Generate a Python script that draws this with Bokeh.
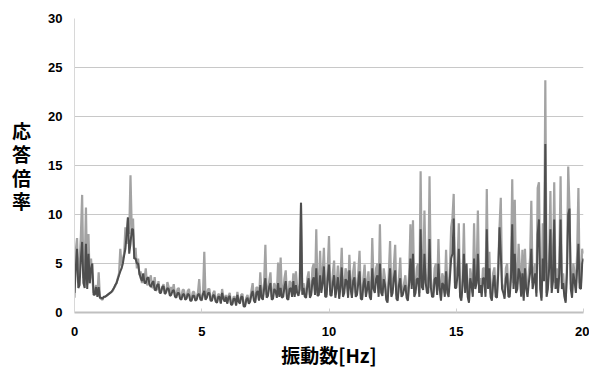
from bokeh.plotting import figure
from bokeh.models import Range1d, FixedTicker
from bokeh.embed import file_html
from bokeh.resources import INLINE

# Frequency axis: 0.00 .. 20.00 Hz in 0.05 Hz steps
freq = [round(i * 0.05, 2) for i in range(401)]

# Response ratio, series A (light trace), one row per 1 Hz
ratio_a = [
    1.5, 6.3, 7.6, 3.0, 5.0, 7.8, 12.0, 3.5, 4.5, 10.7, 2.8, 8.0, 3.0, 5.5, 3.5, 2.0, 2.2, 2.8, 1.8, 4.1,
    1.5, 1.4, 1.3, 1.6, 1.6, 1.7, 1.8, 1.9, 2.0, 2.1, 2.2, 2.5, 2.7, 3.0, 3.5, 4.0, 6.5, 4.8, 5.5, 6.0,
    8.7, 7.0, 9.7, 8.0, 14.0, 8.5, 9.6, 5.5, 6.6, 4.5, 5.5, 3.8, 4.2, 3.0, 3.8, 3.4, 4.5, 2.8, 3.0, 3.3,
    3.8, 2.5, 2.6, 3.6, 2.2, 2.4, 3.2, 2.0, 2.2, 2.6, 2.9, 1.9, 2.0, 3.1, 2.6, 1.8, 2.6, 2.2, 2.9, 1.7,
    1.8, 2.4, 2.5, 1.5, 1.6, 2.3, 2.3, 1.4, 1.5, 2.2, 2.4, 1.3, 1.4, 2.1, 2.1, 1.3, 1.6, 2.0, 3.4, 1.5,
    1.2, 2.0, 6.2, 1.4, 1.8, 2.4, 2.4, 1.3, 1.3, 2.0, 2.2, 1.2, 1.1, 1.9, 1.8, 1.0, 2.4, 1.6, 1.2, 1.8,
    1.0, 1.7, 2.0, 0.9, 0.9, 1.6, 1.6, 0.8, 2.1, 1.2, 1.0, 1.8, 1.9, 0.7, 0.7, 1.5, 1.8, 1.0, 1.3, 2.2,
    3.0, 1.5, 1.2, 2.6, 2.5, 1.3, 4.1, 2.0, 1.5, 3.0, 6.9, 1.8, 2.0, 3.2, 4.1, 1.6, 1.6, 3.0, 2.6, 1.8,
    5.1, 2.0, 5.6, 1.8, 2.0, 3.5, 4.3, 1.6, 1.5, 3.2, 3.0, 2.0, 4.0, 1.8, 4.2, 2.5, 2.0, 3.0, 11.2, 2.2,
    3.0, 2.0, 1.8, 3.5, 4.2, 1.8, 2.0, 4.5, 5.0, 2.2, 8.5, 2.0, 2.2, 6.3, 2.5, 4.0, 6.6, 2.0, 1.8, 4.5,
    7.8, 2.2, 2.0, 4.0, 5.3, 1.8, 3.0, 4.8, 1.6, 3.5, 6.6, 2.0, 2.5, 4.5, 4.0, 1.8, 5.9, 3.0, 1.8, 4.2,
    5.2, 2.0, 2.2, 4.0, 6.3, 1.8, 1.5, 3.5, 4.9, 2.0, 3.0, 4.2, 2.0, 1.6, 7.6, 3.0, 2.5, 4.5, 5.0, 2.0,
    9.0, 2.5, 2.0, 4.5, 3.5, 1.6, 1.2, 4.0, 7.3, 2.0, 2.5, 4.8, 6.9, 1.8, 1.5, 3.5, 5.6, 2.0, 2.2, 3.0,
    3.8, 2.0, 1.5, 4.0, 9.0, 3.0, 9.4, 2.0, 2.5, 4.5, 5.0, 2.0, 14.4, 3.5, 3.0, 10.4, 4.0, 2.5, 2.5, 13.9,
    3.5, 2.0, 2.0, 4.5, 5.0, 2.2, 7.5, 3.0, 1.5, 4.0, 3.5, 2.0, 6.4, 2.5, 2.0, 4.5, 8.7, 9.6, 12.1, 3.0,
    3.5, 5.0, 9.1, 2.0, 1.5, 3.5, 9.1, 2.5, 5.0, 2.0, 1.2, 4.5, 3.5, 2.0, 9.1, 3.0, 4.0, 10.4, 2.5, 3.5,
    2.0, 4.5, 4.5, 2.0, 12.6, 3.0, 6.2, 2.0, 1.5, 4.0, 4.6, 2.0, 2.0, 5.0, 8.7, 11.7, 3.0, 2.5, 1.8, 4.5,
    5.0, 2.0, 2.0, 4.5, 13.6, 3.0, 11.5, 2.5, 3.0, 7.0, 4.5, 2.0, 6.4, 1.5, 6.5, 3.0, 2.0, 4.0, 5.5, 11.4,
    3.0, 4.0, 5.0, 2.0, 12.7, 13.3, 3.0, 1.5, 9.1, 4.0, 23.7, 2.0, 3.0, 5.5, 12.4, 2.5, 4.0, 13.3, 3.0, 4.5,
    2.5, 5.0, 13.9, 3.0, 4.0, 2.0, 1.2, 5.0, 14.9, 10.6, 3.0, 2.0, 5.0, 4.0, 2.5, 6.0, 12.7, 3.0, 3.0, 6.5,
    6.0,
]

# Response ratio, series B (dark trace), one row per 1 Hz
ratio_b = [
    2.0, 4.5, 6.5, 2.5, 2.8, 5.5, 7.2, 3.0, 2.5, 7.0, 2.4, 6.0, 3.0, 4.5, 5.0, 1.8, 1.8, 2.6, 1.6, 2.6,
    1.5, 1.5, 1.4, 1.6, 1.6, 1.7, 1.8, 1.9, 2.0, 2.1, 2.3, 2.5, 2.8, 3.0, 3.4, 3.8, 4.2, 4.5, 5.0, 5.8,
    6.5, 8.0, 9.7, 6.0, 7.0, 8.5, 8.5, 5.5, 5.5, 5.0, 5.0, 4.0, 3.5, 3.2, 4.0, 3.0, 3.0, 3.5, 3.6, 2.8,
    2.6, 3.0, 3.2, 2.3, 2.3, 2.8, 2.9, 2.0, 2.0, 2.6, 2.7, 1.9, 2.1, 2.5, 2.4, 1.7, 1.8, 2.2, 2.3, 1.6,
    1.5, 2.0, 2.0, 1.4, 1.3, 1.8, 1.9, 1.3, 1.4, 1.9, 1.8, 1.2, 1.2, 1.7, 1.7, 1.2, 1.3, 1.8, 1.9, 1.3,
    1.3, 1.9, 2.2, 1.3, 1.5, 2.0, 2.0, 1.2, 1.2, 1.8, 1.7, 1.1, 1.0, 1.6, 1.6, 0.9, 2.0, 1.4, 1.1, 1.6,
    0.9, 1.5, 1.7, 0.8, 0.8, 1.4, 1.4, 0.7, 1.8, 1.1, 0.9, 1.6, 1.6, 0.6, 0.6, 1.3, 1.5, 0.9, 1.1, 1.8,
    2.2, 1.2, 1.0, 2.0, 2.2, 1.2, 2.8, 1.5, 1.3, 2.4, 3.5, 1.5, 1.7, 2.6, 3.0, 1.3, 1.4, 2.4, 2.2, 1.5,
    3.0, 1.6, 2.5, 1.5, 1.6, 2.6, 3.2, 1.4, 1.3, 2.4, 2.5, 1.6, 3.2, 1.6, 2.8, 2.0, 1.7, 2.4, 11.2, 1.8,
    2.5, 1.6, 1.5, 2.8, 3.5, 1.5, 1.8, 3.2, 3.6, 1.8, 4.5, 1.7, 1.8, 3.8, 2.0, 3.0, 4.7, 1.6, 1.6, 3.5,
    4.9, 1.8, 1.7, 3.0, 3.8, 1.5, 2.5, 3.6, 1.4, 2.6, 4.6, 1.6, 2.0, 3.4, 3.2, 1.5, 4.3, 2.4, 1.5, 3.2,
    3.6, 1.6, 1.8, 3.0, 4.2, 1.4, 1.3, 2.8, 3.5, 1.6, 2.4, 3.2, 1.6, 1.3, 4.5, 2.4, 2.0, 3.4, 3.8, 1.6,
    5.0, 2.0, 1.7, 3.4, 2.8, 1.3, 1.0, 3.0, 4.5, 1.6, 2.0, 3.5, 4.3, 1.4, 1.2, 2.8, 3.5, 1.6, 1.8, 2.4,
    2.8, 1.5, 1.2, 3.0, 5.5, 2.4, 6.0, 1.6, 2.0, 3.4, 3.5, 1.6, 8.5, 2.6, 2.3, 6.0, 3.0, 2.0, 2.0, 7.5,
    2.6, 1.6, 1.6, 3.4, 3.6, 1.8, 5.0, 2.4, 1.2, 3.0, 2.8, 1.6, 4.2, 2.0, 1.6, 3.5, 5.5, 6.0, 9.6, 2.5,
    2.5, 3.8, 6.5, 1.6, 1.2, 2.8, 6.0, 2.0, 5.0, 1.6, 1.0, 3.5, 2.8, 1.6, 5.5, 2.4, 3.0, 6.0, 2.0, 2.8,
    1.6, 3.5, 3.5, 1.6, 8.5, 2.4, 4.5, 1.6, 1.2, 3.0, 3.8, 1.6, 1.5, 4.0, 8.7, 6.0, 2.4, 2.0, 1.4, 3.5,
    4.0, 1.6, 1.6, 3.5, 9.0, 2.4, 6.0, 2.0, 2.4, 4.5, 4.0, 1.6, 4.0, 1.2, 4.5, 2.4, 1.6, 3.0, 4.0, 6.5,
    2.4, 3.2, 4.0, 1.6, 8.0, 9.5, 2.4, 1.2, 5.5, 3.2, 17.2, 1.6, 2.4, 4.5, 8.5, 2.0, 3.2, 9.5, 2.4, 3.5,
    2.0, 4.0, 9.5, 2.4, 3.0, 1.6, 1.0, 4.0, 10.0, 10.6, 2.4, 1.5, 4.0, 3.2, 2.0, 4.5, 7.0, 2.5, 2.4, 5.0,
    5.5,
]

x_ticks = [0, 5, 10, 15, 20]
y_ticks = [0, 5, 10, 15, 20, 25, 30]
x_title = "振動数[Hz]"
y_title = "応答倍率"

TICK_FONT = "Liberation Sans"
CJK_FONT = "Noto Sans CJK JP"

p = figure(
    width=589, height=370,
    output_backend="svg", toolbar_location=None,
    x_range=Range1d(0, 20), y_range=Range1d(0, 30),
    min_border_left=74, min_border_right=6,
    min_border_top=18, min_border_bottom=58,
)
p.outline_line_color = None
p.background_fill_color = "white"
p.border_fill_color = "white"

# grid
p.xgrid.grid_line_color = None
p.ygrid.grid_line_color = "#c8c8c8"
p.ygrid.grid_line_width = 1

# axes
p.xaxis.ticker = FixedTicker(ticks=x_ticks)
p.yaxis.ticker = FixedTicker(ticks=y_ticks)
for ax in (p.xaxis, p.yaxis):
    ax.major_label_text_font = TICK_FONT
    ax.major_label_text_font_style = "bold"
    ax.major_label_text_font_size = "13px"
    ax.major_label_text_color = "black"
    ax.minor_tick_line_color = None
    ax.major_tick_out = 0
    ax.axis_label_text_font = CJK_FONT
    ax.axis_label_text_font_style = "bold"
    ax.axis_label_text_font_size = "19px"
    ax.axis_label_text_color = "black"

ax = p.xaxis[0]
ax.axis_line_color = "#c0c0c0"
ax.axis_line_width = 2
ax.major_tick_in = 4
ax.major_tick_line_color = "#d0d0d0"
ax.major_label_standoff = 14
ax.axis_label = x_title
ax.axis_label_standoff = 2

ay = p.yaxis[0]
ay.axis_line_color = "#d8d8d8"
ay.axis_line_width = 1
ay.major_tick_in = 0
ay.major_label_standoff = 12
# y title: one upright character per line
ay.axis_label = "\n".join(y_title)
ay.axis_label_orientation = "horizontal"
ay.axis_label_text_line_height = 0.86
ay.axis_label_standoff = 14

# the two response traces
p.line(freq, ratio_a, line_color="#a3a3a3", line_width=2.2)
p.line(freq, ratio_b, line_color="#4e4e4e", line_width=2.0)

open("out.html", "w").write(file_html(p, INLINE))
